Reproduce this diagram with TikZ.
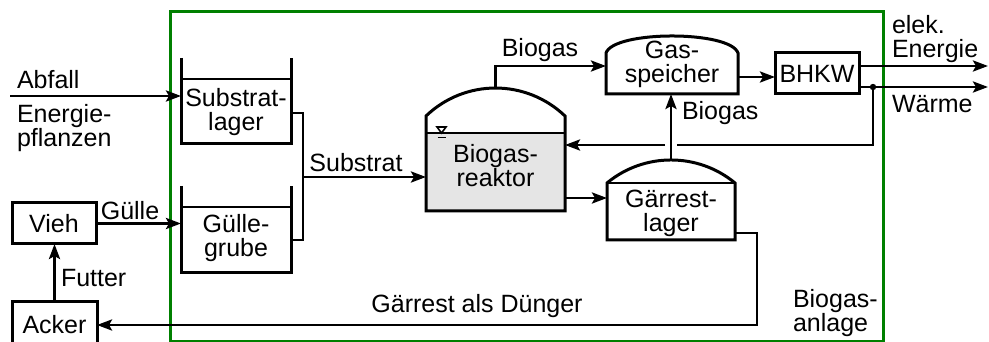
\documentclass[tikz,border=0pt]{standalone}
\usepackage{fontspec}
\setmainfont{Liberation Sans}
\usetikzlibrary{arrows.meta}

\begin{document}
\begin{tikzpicture}[x=1pt,y=-1pt,
  every node/.style={font=\fontsize{25}{24}\selectfont, inner sep=0pt, outer sep=0pt},
  conn/.style={line width=2.9pt, -{Stealth[length=15pt,width=11pt,inset=3pt]}},
  pipe/.style={line width=2.9pt},
  vessel/.style={line width=3pt, line join=miter},
  surface/.style={line width=2.2pt},
  unit/.style={draw, line width=3pt, minimum width=84pt, minimum height=41pt},
  frame/.style={draw=green!50!black, line width=3pt},
  lbl/.style={align=center},
]
\useasboundingbox (0,0) rectangle (989,342);

% plant boundary
\draw[frame] (170,12) rectangle (883,341.5);

% Substratlager (open tank)
\draw[vessel] (181,58) -- (181,144) -- (291,144) -- (291,58);
\draw[surface] (181,79) -- (291,79);
\node[lbl] (sublager) at (236,112) {Substrat-\\lager};

% Güllegrube (open tank)
\draw[vessel] (181,186) -- (181,272) -- (291,272) -- (291,186);
\draw[surface] (181,207) -- (291,207);
\node[lbl] (gruelle) at (236,238) {Gülle-\\grube};

% Biogasreaktor
\fill[gray!20] (426,133) rectangle (565,211);
\draw[vessel] (426,211) -- (426,116) .. controls (465,78.7) and (526,78.7) .. (565,116) -- (565,211) -- cycle;
\draw[surface] (426,133) -- (565,133);
\draw[line width=1.6pt] (437,127) -- (446,127) -- (441.5,133) -- cycle;
\draw[line width=1.6pt] (437.5,137.5) -- (446,137.5);
\node[lbl] (reaktor) at (495.5,166) {Biogas-\\reaktor};

% Gasspeicher
\draw[vessel] (606,94) -- (606,53) .. controls (614,30.3) and (730,30.3) .. (738,53) -- (738,94) -- cycle;
\node[lbl] (speicher) at (672,64) {Gas-\\speicher};

% Gärrestlager
\draw[vessel] (607,240) -- (607,183) .. controls (644,152.3) and (698,152.3) .. (735,183) -- (735,240) -- cycle;
\draw[surface] (607,183) -- (735,183);
\node[lbl] (gaerrest) at (671,213.5) {Gärrest-\\lager};

% units
\node[unit] (bhkw) at (817,73.5) {BHKW};
\node[unit] (vieh) at (54,223.5) {Vieh};
\node[unit, minimum width=85pt, minimum height=48pt] (acker) at (54.5,325) {Acker};

% ports
\coordinate (abfIn) at (10,96);
\coordinate (slIn) at (181,96);
\coordinate (ggIn) at (181,223.5);
\coordinate (slOut) at (291,113);
\coordinate (ggOut) at (291,240);
\coordinate (join) at (303,177);
\coordinate (rIn) at (426,177);
\coordinate (rTop) at (495.5,88);
\coordinate (gsIn) at (606,66);
\coordinate (gsOut) at (738,77);
\coordinate (gsBot) at (671,94);
\coordinate (glTop) at (671,160);
\coordinate (rOut) at (565,198);
\coordinate (glIn) at (607,198);
\coordinate (glOut) at (735,233);
\coordinate (bend) at (757,325);
\coordinate (elOut) at (988,66);
\coordinate (wOut) at (988,87);
\coordinate (tap) at (873,87);
\coordinate (ret) at (873,145);
\coordinate (gapR) at (677,145);
\coordinate (gapL) at (665,145);
\coordinate (rRet) at (565,145);

% connectors
\draw[conn] (abfIn) -- (slIn);
\draw[conn] (vieh.east) -- (ggIn);
\draw[conn] (acker.north) -- (acker.north |- vieh.south);
\draw[pipe] (slOut) -| (join) |- (ggOut);
\draw[conn] (join) -- (rIn);
\draw[conn] (rTop) |- (gsIn);
\draw[conn] (gsOut) -- (gsOut -| bhkw.west);
\draw[conn] (elOut -| bhkw.east) -- (elOut);
\draw[conn] (wOut -| bhkw.east) -- (wOut);
\fill (tap) circle (3.2pt);
\draw[pipe] (tap) -- (ret) -- (gapR);
\draw[conn] (gapL) -- (rRet);
\draw[conn] (glTop) -- (gsBot);
\draw[conn] (rOut) -- (glIn);
\draw[conn] (glOut) -| (bend) -- (acker.east);

% labels
\node[anchor=base west] (lAbfall) at (17,89) {Abfall};
\node[anchor=north west, align=left] (lEnergie) at (17,104) {Energie-\\pflanzen};
\node[anchor=base] (lGuelle) at (130,220) {Gülle};
\node[anchor=base west] (lFutter) at (61,287) {Futter};
\node[anchor=base] (lSubstrat) at (356,172) {Substrat};
\node[anchor=base] (lBiogasA) at (540,57) {Biogas};
\node[anchor=base west] (lBiogasB) at (682,120) {Biogas};
\node[anchor=north west, align=left] (lElek) at (892,15) {elek.\\Energie};
\node[anchor=base west] (lWaerme) at (892,113) {Wärme};
\node[anchor=base] (lDuenger) at (477,312) {Gärrest als Dünger};
\node[anchor=north west, align=left] (lAnlage) at (793,289) {Biogas-\\anlage};
\end{tikzpicture}
\end{document}
